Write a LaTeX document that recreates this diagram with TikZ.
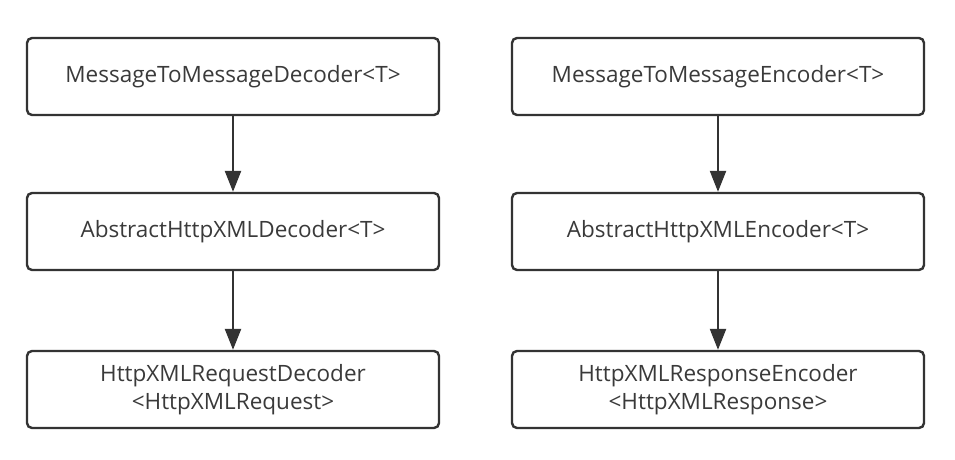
\documentclass[tikz,border=0pt]{standalone}
\usepackage{fontspec}
\setmainfont{Open Sans}
\usetikzlibrary{arrows.meta}
\definecolor{edge}{HTML}{333333}
\definecolor{txt}{HTML}{3A3A3A}
\begin{document}
\begin{tikzpicture}[x=1bp,y=-1bp,
  box/.style={draw=edge,line width=2.4bp,rounded corners=5bp,minimum width=412bp,minimum height=77bp,text=txt,font=\fontsize{22.5bp}{28bp}\selectfont,align=center,inner sep=0pt},
  link/.style={draw=edge,line width=2.4bp,-{Triangle[length=21bp,width=16bp]}}]
\useasboundingbox (0,0) rectangle (955,460);
\node[box] (a1) at (233,76.5) {MessageToMessageDecoder<T>};
\node[box] (a2) at (233,231.5) {AbstractHttpXMLDecoder<T>};
\node[box] (a3) at (233,389.5) {HttpXMLRequestDecoder\\<HttpXMLRequest>};
\node[box] (b1) at (718,76.5) {MessageToMessageEncoder<T>};
\node[box] (b2) at (718,231.5) {AbstractHttpXMLEncoder<T>};
\node[box] (b3) at (718,389.5) {HttpXMLResponseEncoder\\<HttpXMLResponse>};
\draw[link] (a1) -- (a2);
\draw[link] (a2) -- (a3);
\draw[link] (b1) -- (b2);
\draw[link] (b2) -- (b3);
\end{tikzpicture}
\end{document}
